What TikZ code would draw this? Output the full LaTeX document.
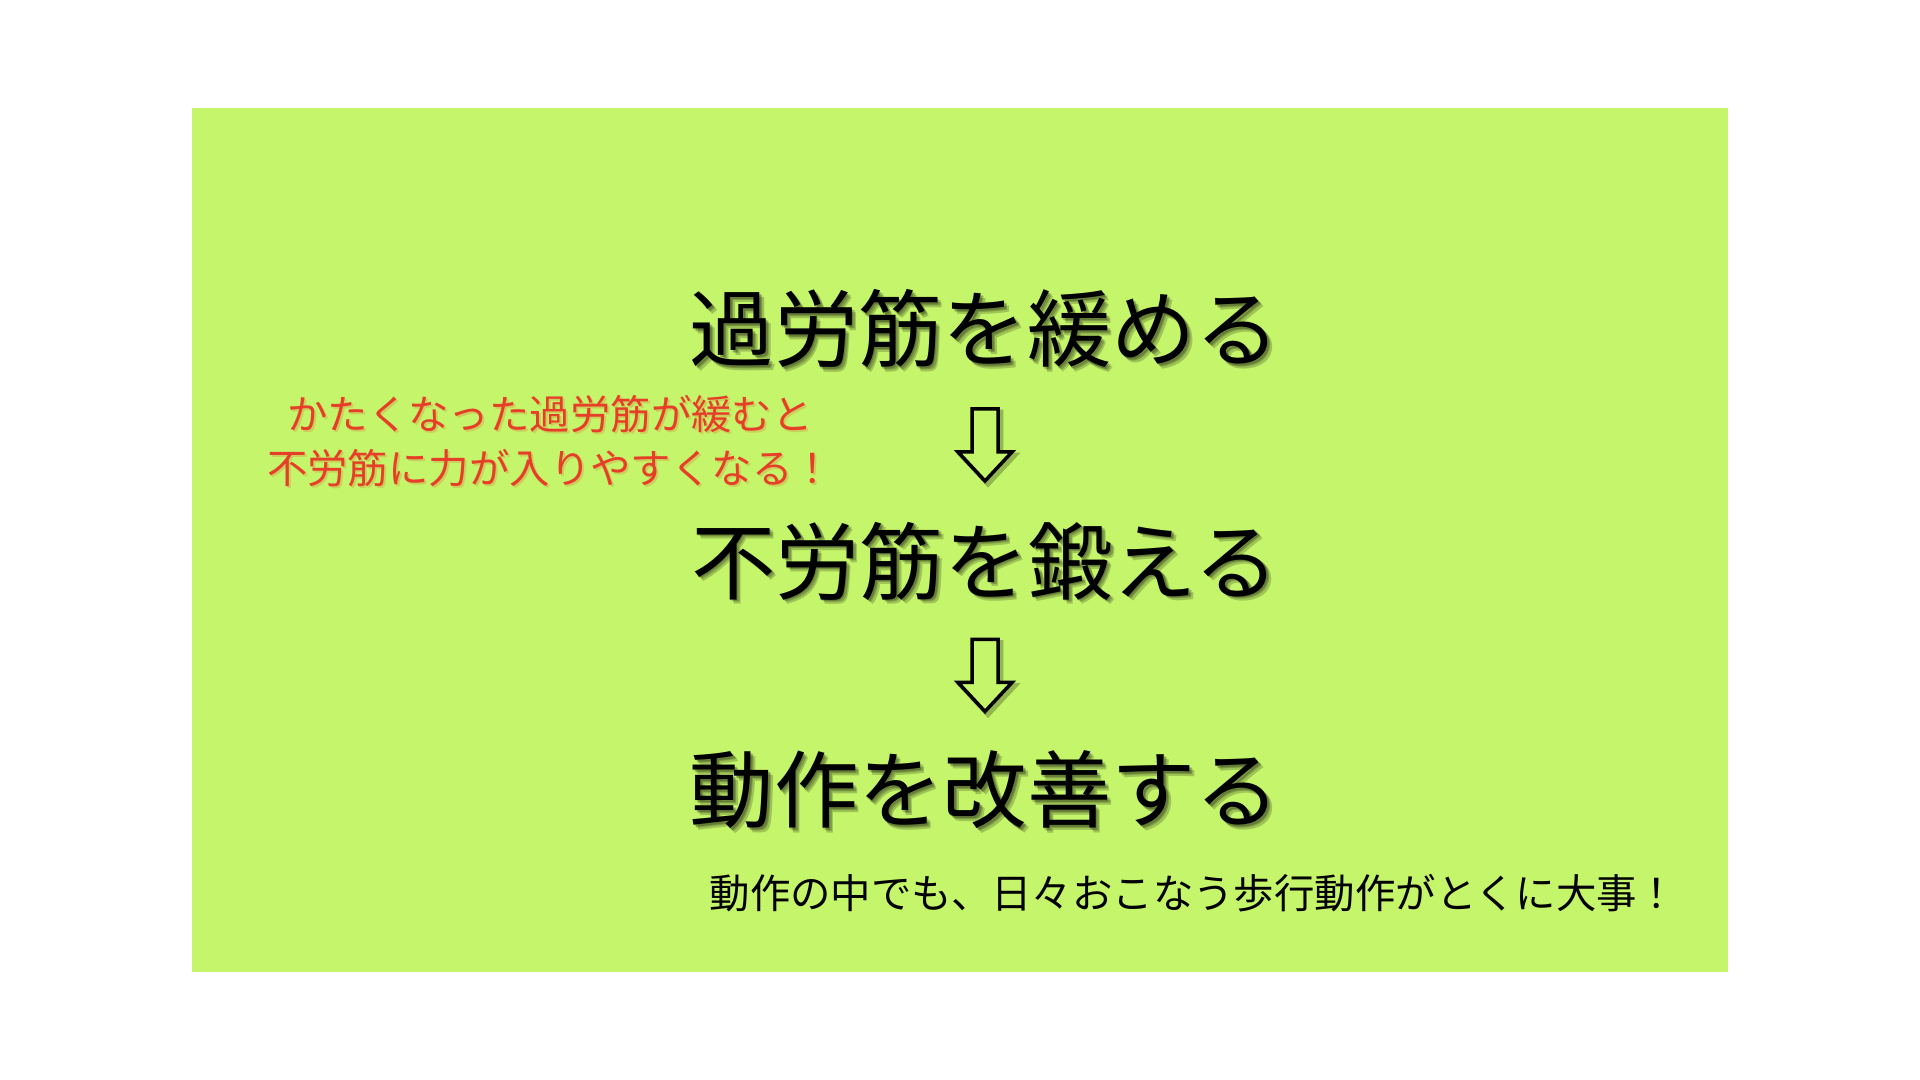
\documentclass[tikz,border=0pt]{standalone}
\usepackage{fontspec}
\setmainfont{Noto Sans CJK JP}
\usetikzlibrary{calc}
\definecolor{sheet}{RGB}{197,245,106}
\definecolor{note}{RGB}{230,62,40}
\tikzset{
  title/.style={font=\fontsize{24}{28}\selectfont, inner sep=0pt},
  shade/.style={text=black, opacity=0.2},
  remark/.style={font=\fontsize{11.5}{15.4}\selectfont, inner sep=0pt},
  hollow/.style={draw=black, line width=1pt, fill=sheet, line join=miter}
}
\newcommand\downpath{(-0.13,0.36) -- (0.13,0.36) -- (0.13,-0.07) -- (0.27,-0.07) -- (0,-0.36) -- (-0.27,-0.07) -- (-0.13,-0.07) -- cycle}
\begin{document}
\begin{tikzpicture}
\useasboundingbox (0,0) rectangle (19.2,10.8);
\fill [sheet] (1.92,1.08) rectangle (17.28,9.72);
% the three steps, with a soft shadow
\foreach \name/\y/\txt in {t1/7.51/過労筋を緩める, t2/5.19/不労筋を鍛える, t3/2.90/動作を改善する} {
	\foreach \d in {1,2,3}
		\node [title, shade] (\name s\d) at (9.85+0.015*\d,\y-0.015*\d) {\txt};
	\node [title] (\name) at (9.85,\y) {\txt};
}
% hollow arrows between the steps
\foreach \a/\b in {t1/t2, t2/t3} {
	\coordinate (m\a) at ($(\a)!0.5!(\b)$);
	\draw [line width=1.4pt, black, opacity=0.25, shift={($(m\a)+(0.03,-0.03)$)}] \downpath;
	\draw [hollow, shift={(m\a)}] \downpath;
}
\node [remark, text=note, opacity=0.2, align=center] (whys) at (5.52,6.37) {かたくなった過労筋が緩むと\\不労筋に力が入りやすくなる！};
\node [remark, text=note, align=center] (why) at (5.50,6.39) {かたくなった過労筋が緩むと\\不労筋に力が入りやすくなる！};
\node [remark, anchor=west] (gait) at (7.09,1.87) {動作の中でも、日々おこなう歩行動作がとくに大事！};
\end{tikzpicture}
\end{document}
